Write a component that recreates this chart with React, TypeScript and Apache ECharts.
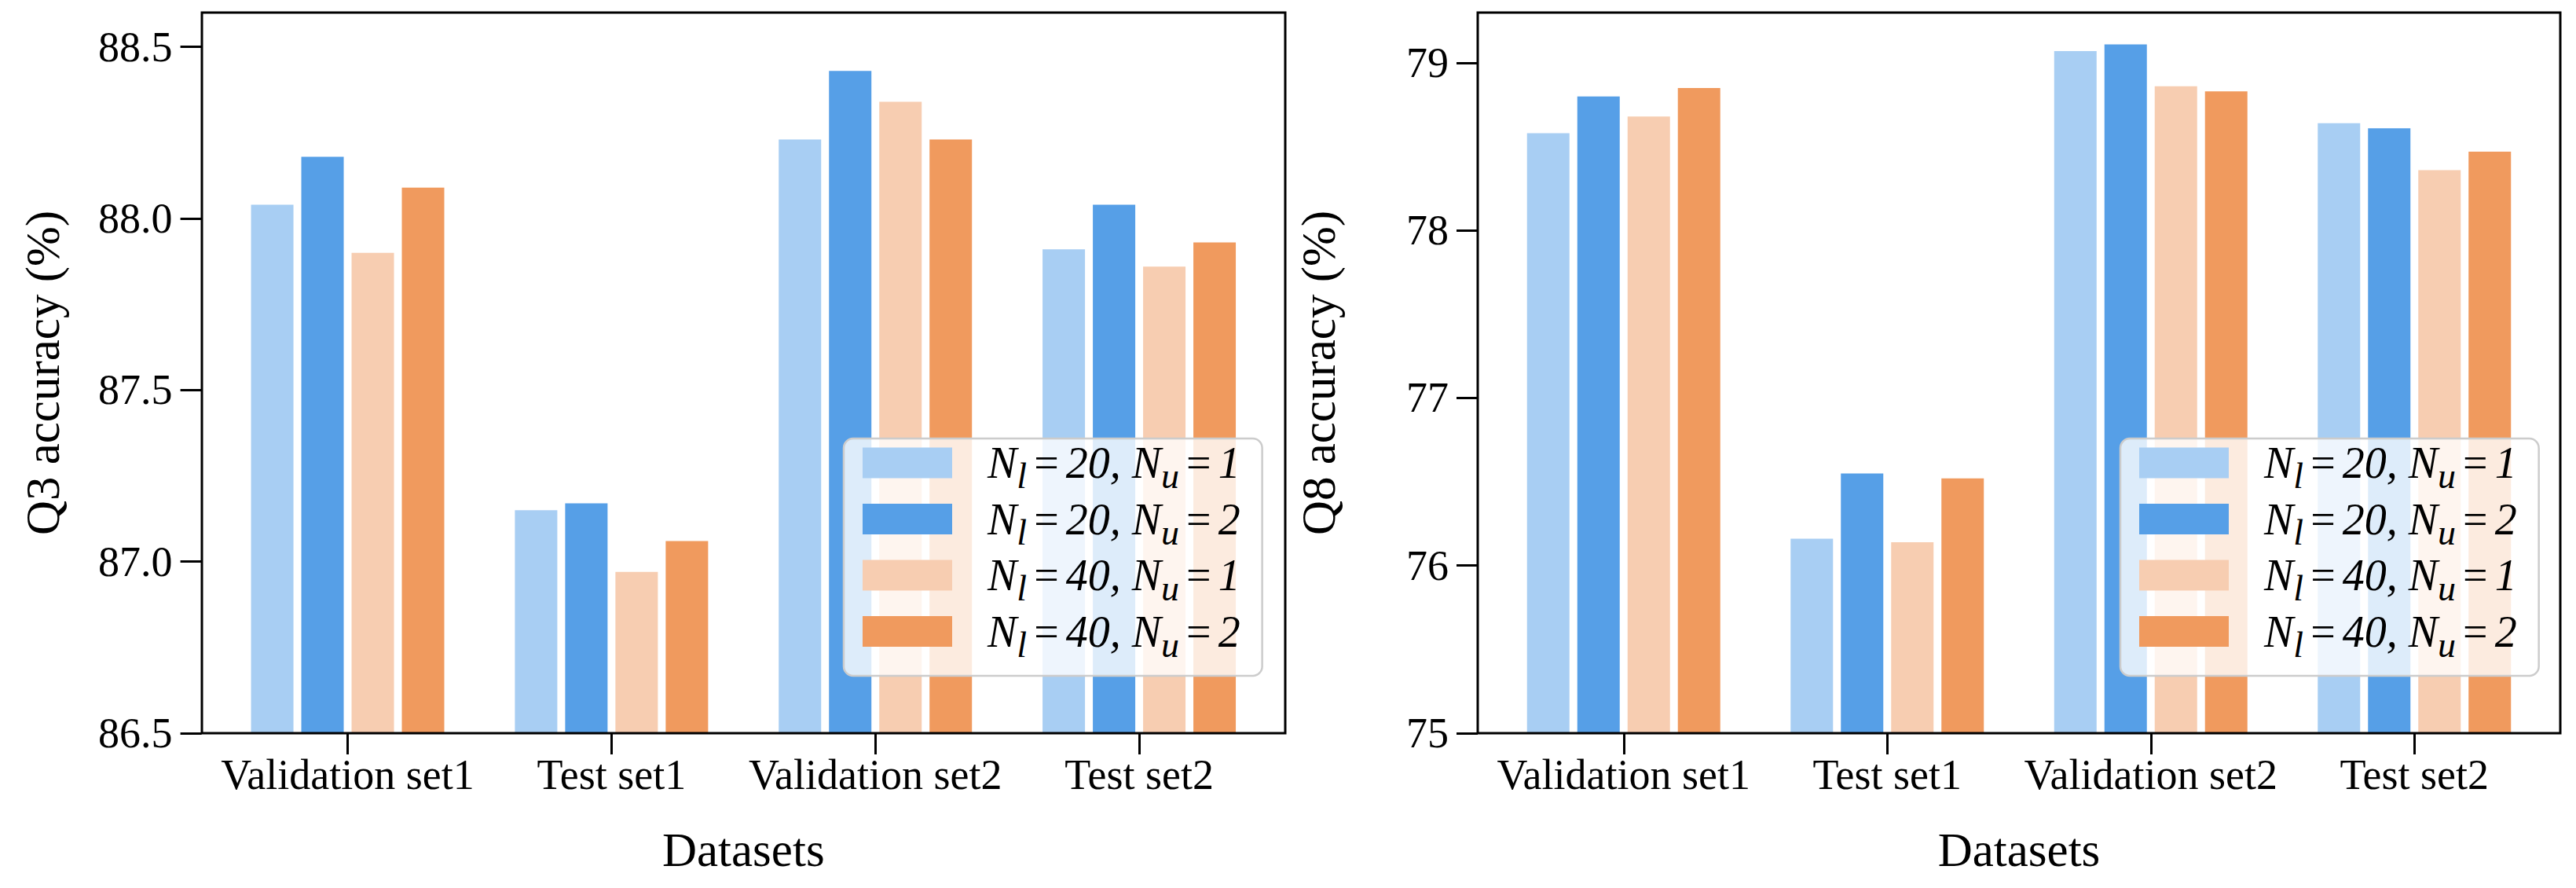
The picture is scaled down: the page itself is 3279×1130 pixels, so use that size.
import React, { useEffect, useRef } from "react";
import * as echarts from "echarts";

const categories = ["Validation set1", "Test set1", "Validation set2", "Test set2"];
const seriesNames = ["N_l = 20, N_u = 1", "N_l = 20, N_u = 2", "N_l = 40, N_u = 1", "N_l = 40, N_u = 2"];
const nlValues = ["20", "20", "40", "40"];
const nuValues = ["1", "2", "1", "2"];
const colors = ["#a8cef3", "#569fe7", "#f7cdb1", "#f09a5e"];

const q3Nl20Nu1 = [88.04, 87.15, 88.23, 87.91];
const q3Nl20Nu2 = [88.18, 87.17, 88.43, 88.04];
const q3Nl40Nu1 = [87.9, 86.97, 88.34, 87.86];
const q3Nl40Nu2 = [88.09, 87.06, 88.23, 87.93];

const q8Nl20Nu1 = [78.58, 76.16, 79.07, 78.64];
const q8Nl20Nu2 = [78.8, 76.55, 79.11, 78.61];
const q8Nl40Nu1 = [78.68, 76.14, 78.86, 78.36];
const q8Nl40Nu2 = [78.85, 76.52, 78.83, 78.47];

const q3Ticks = [86.5, 87.0, 87.5, 88.0, 88.5];
const q8Ticks = [75, 76, 77, 78, 79];

const FONT = "Liberation Serif";

export default function App() {
  const ref = useRef<HTMLDivElement>(null);

  useEffect(() => {
    if (!ref.current) return;
    const chart = echarts.init(ref.current, null, { renderer: "svg" });

    const q3Data = [q3Nl20Nu1, q3Nl20Nu2, q3Nl40Nu1, q3Nl40Nu2];
    const q8Data = [q8Nl20Nu1, q8Nl20Nu2, q8Nl40Nu1, q8Nl40Nu2];

    const mkX = (gridIndex: number) => ({
      type: "category",
      gridIndex,
      data: categories,
      name: "Datasets",
      nameLocation: "middle",
      nameGap: 118,
      nameTextStyle: { fontFamily: FONT, fontSize: 61, color: "#000" },
      axisLine: { show: false },
      axisTick: {
        show: true,
        alignWithLabel: true,
        inside: false,
        length: 27,
        lineStyle: { color: "#000", width: 3 },
      },
      axisLabel: {
        interval: 0,
        margin: 26,
        fontFamily: FONT,
        fontSize: 54,
        color: "#000",
      },
      splitLine: { show: false },
    });

    const mkY = (gridIndex: number, min: number, max: number, ticks: number[], name: string, decimals: number) => ({
      type: "value",
      gridIndex,
      min,
      max,
      offset: 18,
      name,
      nameLocation: "middle",
      nameGap: 172,
      nameTextStyle: { fontFamily: FONT, fontSize: 61, color: "#000" },
      axisLine: { show: false },
      axisTick: {
        show: true,
        inside: false,
        length: 27,
        customValues: ticks,
        lineStyle: { color: "#000", width: 3 },
      },
      axisLabel: {
        margin: 37,
        customValues: ticks,
        fontFamily: FONT,
        fontSize: 54,
        color: "#000",
        formatter: (v: number) => v.toFixed(decimals),
      },
      splitLine: { show: false },
    });

    const series: any[] = [];
    [q3Data, q8Data].forEach((set, gi) => {
      set.forEach((vals, i) => {
        series.push({
          type: "bar",
          name: seriesNames[i],
          xAxisIndex: gi,
          yAxisIndex: gi,
          data: vals,
          barWidth: 54,
          barGap: "18.5%",
          itemStyle: { color: colors[i] },
          emphasis: { disabled: true },
        });
      });
    });

    const legendFormatter = (name: string) => {
      const i = seriesNames.indexOf(name);
      return `{first|N}{sub|l}{eq|=}{n|${nlValues[i]}, N}{sub|u}{eq|=}{n|${nuValues[i]}}`;
    };

    const rich = {
      first: { fontFamily: FONT, fontStyle: "italic", fontSize: 56, lineHeight: 79, color: "#000", padding: [0, 0, 0, 40] },
      n: { fontFamily: FONT, fontStyle: "italic", fontSize: 56, lineHeight: 79, color: "#000" },
      eq: { fontFamily: FONT, fontSize: 56, lineHeight: 79, color: "#000", padding: [0, 9, 0, 9] },
      sub: { fontFamily: FONT, fontStyle: "italic", fontSize: 46, lineHeight: 46, verticalAlign: "bottom", color: "#000" },
    };

    const mkLegend = (left: number) => ({
      show: true,
      orient: "vertical",
      left,
      top: 558,
      data: seriesNames,
      icon: "rect",
      itemWidth: 114,
      itemHeight: 39,
      itemGap: 4,
      padding: [3, 28, 17, 24],
      backgroundColor: "rgba(255,255,255,0.8)",
      borderColor: "#cccccc",
      borderWidth: 2.5,
      borderRadius: 12,
      selectedMode: false,
      formatter: legendFormatter,
      textStyle: { fontFamily: FONT, fontSize: 56, color: "#000", rich },
      z: 20,
    });

    const option: any = {
      animation: false,
      backgroundColor: "#ffffff",
      grid: [
        { left: 274.6, right: 1661, top: 16, bottom: 197 },
        { left: 1899, right: 38, top: 16, bottom: 197 },
      ],
      xAxis: [mkX(0), mkX(1)],
      yAxis: [
        mkY(0, 86.5, 88.6, q3Ticks, "Q3 accuracy (%)", 1),
        mkY(1, 75, 79.3, q8Ticks, "Q8 accuracy (%)", 0),
      ],
      legend: [mkLegend(1074), mkLegend(2699)],
      series,
      graphic: [
        {
          type: "rect",
          z: 100,
          silent: true,
          shape: { x: 257, y: 16, width: 1379, height: 917 },
          style: { fill: "none", stroke: "#000", lineWidth: 3 },
        },
        {
          type: "rect",
          z: 100,
          silent: true,
          shape: { x: 1881, y: 16, width: 1378, height: 917 },
          style: { fill: "none", stroke: "#000", lineWidth: 3 },
        },
      ],
    };

    chart.setOption(option);
    return () => chart.dispose();
  }, []);

  return (
    <div
      ref={ref}
      style={{ position: "absolute", left: 0, top: 0, width: 3279, height: 1130, background: "#fff" }}
    />
  );
}
